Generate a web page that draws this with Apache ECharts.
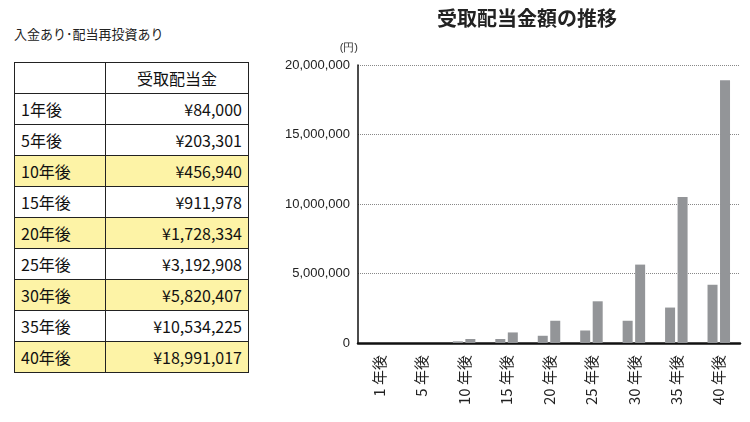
<!DOCTYPE html><html><head><meta charset="utf-8">
<script src="https://cdn.jsdelivr.net/npm/echarts@6/dist/echarts.min.js"></script>
<style>
body{margin:0;width:750px;height:422px;background:#fff;font-family:"Noto Sans CJK JP",sans-serif;position:relative;overflow:hidden}
#cap{position:absolute;left:14px;top:24px;font-size:13px;color:#222}
table{position:absolute;left:14px;top:62px;border-collapse:collapse;font-size:16px;color:#111}
td{border:1.5px solid #222;height:30px;padding:0 6px;line-height:30px}
td.a{width:78px}td.b{width:130px;text-align:right}
tr.y td{background:#fdf3a6}
#c{position:absolute;left:270px;top:0;width:480px;height:422px}
</style></head><body>
<div id="cap">入金あり･配当再投資あり</div>
<table id="t"></table>
<div id="c"></div>
<script>
const categories=["1年後","5年後","10年後","15年後","20年後","25年後","30年後","35年後","40年後"];
const tableValues=["¥84,000","¥203,301","¥456,940","¥911,978","¥1,728,334","¥3,192,908","¥5,820,407","¥10,534,225","¥18,991,017"];
const seriesA=[0,0,120000,290000,520000,900000,1600000,2550000,4190000];
const seriesB=[0,0,290000,760000,1600000,3000000,5640000,10500000,18900000];
const axisLabels=["1 年後","5 年後","10 年後","15 年後","20 年後","25 年後","30 年後","35 年後","40 年後"];
let h='<tr><td class="a"></td><td class="b" style="text-align:center">受取配当金</td></tr>';
categories.forEach((c,i)=>{h+=`<tr class="${i%2==0&&i>0?'y':''}"><td class="a">${c}</td><td class="b">${tableValues[i]}</td></tr>`;});
document.getElementById('t').innerHTML=h;
const ch=echarts.init(document.getElementById('c'));
ch.setOption({animation:false,
title:{text:'受取配当金額の推移',left:162,top:3,textStyle:{fontSize:20,fontWeight:'bold',color:'#222',fontFamily:'Noto Sans CJK JP'}},
grid:{left:88,right:10,top:65,bottom:79},
xAxis:{type:'category',data:axisLabels,axisLine:{lineStyle:{color:'#111',width:2.5}},axisTick:{show:false},
axisLabel:{rotate:90,fontSize:15,color:'#222',margin:12,fontFamily:'Noto Sans CJK JP'}},
yAxis:{type:'value',min:0,max:20000000,interval:5000000,name:'(円)',nameGap:12,nameTextStyle:{fontSize:11,color:'#333',align:'right'},
axisLine:{show:true,lineStyle:{color:'#111',width:1.5}},axisTick:{show:false},
axisLabel:{fontSize:13,color:'#222',formatter:v=>v.toLocaleString('en-US')},
splitLine:{lineStyle:{type:'dotted',color:'#888'}}},
series:[{type:'bar',data:seriesA,barWidth:10,barGap:'25%',itemStyle:{color:'#939598'}},
{type:'bar',data:seriesB,barWidth:10,itemStyle:{color:'#939598'}}]});
</script></body></html>
